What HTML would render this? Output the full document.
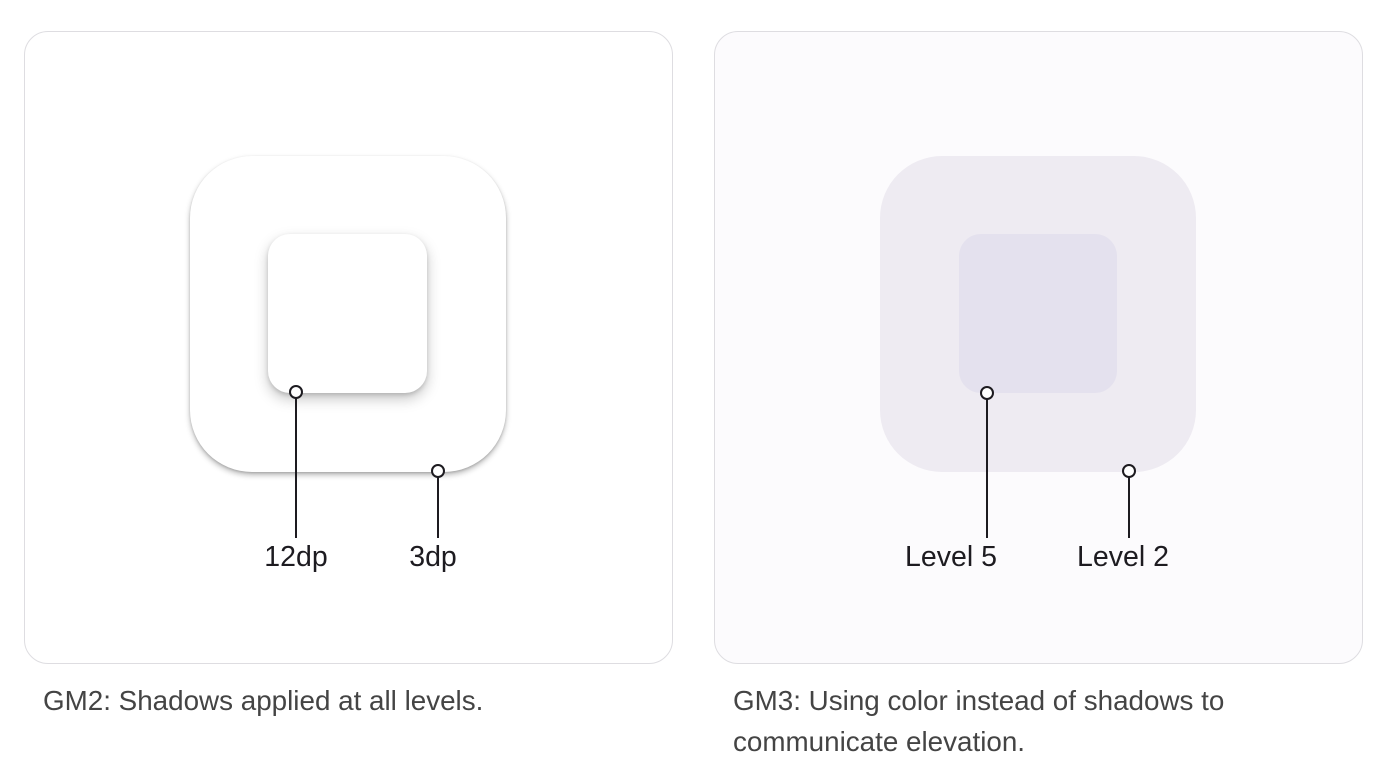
<!DOCTYPE html>
<html><head><style>
body{margin:0;width:1384px;height:782px;background:#fff;position:relative;font-family:"Liberation Sans",sans-serif;overflow:hidden}
.card{position:absolute;top:31px;width:649px;height:633px;border:1px solid #dedde1;border-radius:24px;box-sizing:border-box}
.abs{position:absolute}
.lbl{position:absolute;font-size:28.5px;color:#1d1b20;transform:translateX(-50%);white-space:nowrap;top:541px}
.cap{position:absolute;font-size:27.8px;color:#444;line-height:41px}
</style></head><body>
<div class="card" style="left:24px;background:#fff"></div>
<div class="card" style="left:714px;background:#fcfbfd"></div>

<div class="abs" style="left:190px;top:156px;width:316px;height:316px;border-radius:62px;background:#fff;box-shadow:0 3px 6px rgba(0,0,0,.28),0 1px 2px rgba(0,0,0,.15)"></div>
<div class="abs" style="left:268px;top:234px;width:159px;height:159px;border-radius:22px;background:#fff;box-shadow:0 6px 14px rgba(0,0,0,.22),0 2px 4px rgba(0,0,0,.15)"></div>

<div class="abs" style="left:880px;top:156px;width:316px;height:316px;border-radius:62px;background:#eeebf2"></div>
<div class="abs" style="left:959px;top:234px;width:158px;height:159px;border-radius:22px;background:#e4e1ee"></div>

<svg class="abs" style="left:0;top:0" width="1384" height="782">
<g stroke="#1d1b20" stroke-width="2" fill="#fff">
<line x1="296" y1="398" x2="296" y2="538"/><circle cx="296" cy="392" r="6"/>
<line x1="438" y1="477" x2="438" y2="538"/><circle cx="438" cy="471" r="6"/>
<line x1="987" y1="399" x2="987" y2="538"/><circle cx="987" cy="393" r="6"/>
<line x1="1129" y1="477" x2="1129" y2="538"/><circle cx="1129" cy="471" r="6"/>
</g></svg>

<div class="lbl" style="left:296px">12dp</div>
<div class="lbl" style="left:433px">3dp</div>
<div class="lbl" style="left:951px">Level 5</div>
<div class="lbl" style="left:1123px">Level 2</div>

<div class="cap" style="left:43px;top:680px">GM2: Shadows applied at all levels.</div>
<div class="cap" style="left:733px;top:680px">GM3: Using color instead of shadows to<br>communicate elevation.</div>
</body></html>
